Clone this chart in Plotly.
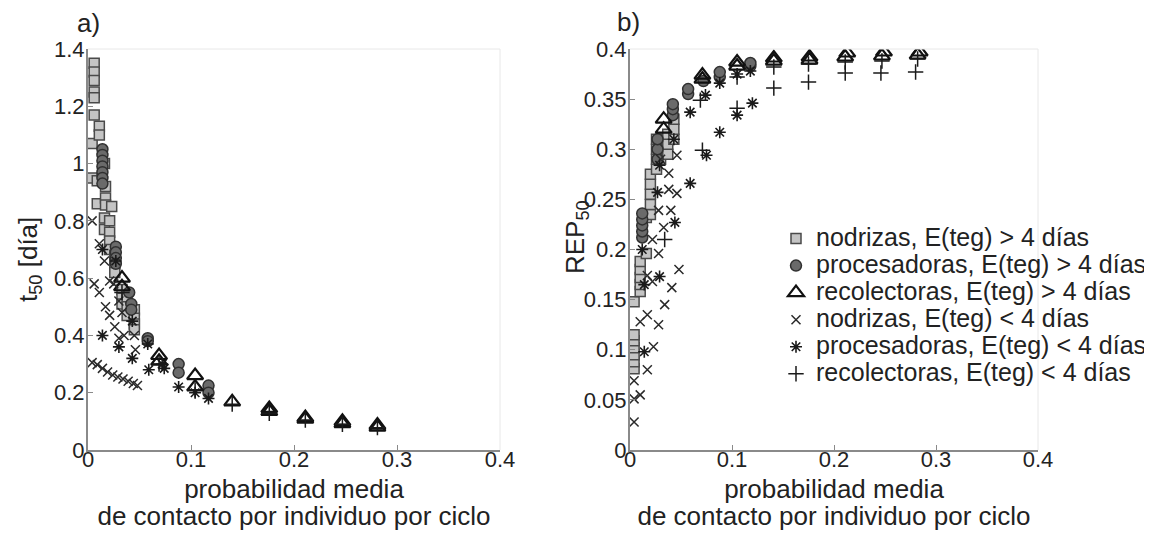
import plotly.graph_objects as go

# ---------------- data: panel a) t50 ----------------
nod_hi_a_x = [0.006,0.006,0.006,0.006,0.006,0.006,0.004,0.004,0.011,0.011,0.009,0.009,
              0.016,0.017,0.017,0.017,0.016,0.016,0.023,0.021,0.021,0.021,0.021,
              0.026,0.026,0.026,0.033,0.033,0.033,0.038,0.038,0.038,0.045,0.045,0.045,0.045]
nod_hi_a_y = [1.35,1.32,1.29,1.25,1.23,1.17,1.07,0.95,1.13,1.10,0.94,0.86,
              1.00,0.92,0.88,0.855,0.81,0.77,0.85,0.80,0.76,0.73,0.70,
              0.68,0.65,0.62,0.56,0.53,0.51,0.53,0.50,0.47,0.49,0.46,0.44,0.42]
pro_hi_a_x = [0.014,0.014,0.014,0.014,0.014,0.014,0.014,0.027,0.027,0.027,0.027,
              0.040,0.042,0.042,0.058,0.058,0.088,0.088,0.117,0.117]
pro_hi_a_y = [1.05,1.03,1.01,0.99,0.97,0.95,0.93,0.71,0.69,0.67,0.65,
              0.55,0.51,0.49,0.39,0.38,0.30,0.27,0.225,0.20]
rec_hi_a_x = [0.033,0.033,0.069,0.069,0.104,0.104,0.140,0.176,0.176,0.211,0.211,0.247,0.247,0.281,0.281]
rec_hi_a_y = [0.60,0.57,0.33,0.31,0.26,0.22,0.168,0.145,0.135,0.113,0.108,0.10,0.092,0.087,0.080]
nod_lo_a_x = [0.004,0.009,0.014,0.019,0.024,0.029,0.034,0.039,0.044,0.048,
              0.004,0.011,0.016,0.006,0.011,0.017,0.021,0.026,0.021,0.030,0.033,0.035,0.045,0.046,0.025,0.030]
nod_lo_a_y = [0.305,0.298,0.285,0.272,0.262,0.255,0.248,0.240,0.232,0.225,
              0.80,0.72,0.66,0.58,0.55,0.50,0.47,0.43,0.59,0.52,0.48,0.40,0.40,0.35,0.58,0.39]
pro_lo_a_x = [0.014,0.014,0.030,0.027,0.043,0.043,0.059,0.058,0.074,0.072,0.088,0.104,0.117]
pro_lo_a_y = [0.70,0.40,0.36,0.66,0.32,0.45,0.28,0.37,0.285,0.30,0.22,0.20,0.18]
rec_lo_a_x = [0.033,0.069,0.104,0.140,0.176,0.211,0.247,0.281]
rec_lo_a_y = [0.55,0.30,0.21,0.160,0.128,0.105,0.090,0.078]

# ---------------- data: panel b) REP50 ----------------
nod_hi_b_x = [0.004,0.004,0.004,0.004,0.004,0.004,0.004,0.010,0.010,0.010,0.010,0.010,
              0.016,0.016,0.020,0.020,0.020,0.020,0.020,0.026,0.026,0.026,0.026,
              0.030,0.030,0.032,0.037,0.037,0.037,0.043,0.043,0.043]
nod_hi_b_y = [0.081,0.088,0.095,0.102,0.109,0.115,0.148,0.158,0.165,0.172,0.180,0.188,
              0.196,0.232,0.235,0.245,0.255,0.265,0.275,0.28,0.29,0.30,0.31,
              0.29,0.30,0.31,0.295,0.305,0.315,0.31,0.32,0.33]
pro_hi_b_x = [0.012,0.012,0.012,0.012,0.012,0.027,0.027,0.027,0.042,0.042,0.042,
              0.057,0.057,0.072,0.088,0.088,0.118,0.118]
pro_hi_b_y = [0.212,0.218,0.224,0.230,0.236,0.29,0.30,0.31,0.334,0.340,0.345,
              0.355,0.36,0.368,0.372,0.377,0.383,0.386]
rec_hi_b_x = [0.033,0.033,0.071,0.071,0.105,0.105,0.141,0.141,0.176,0.176,0.213,0.211,0.249,0.247,0.284,0.282]
rec_hi_b_y = [0.33,0.32,0.374,0.370,0.387,0.383,0.391,0.388,0.392,0.389,0.396,0.392,0.397,0.393,0.397,0.394]
nod_lo_b_x = [0.004,0.004,0.010,0.004,0.017,0.023,0.010,0.017,0.028,0.034,0.022,0.041,
              0.048,0.017,0.022,0.028,0.033,0.028,0.040,0.046,0.038,0.046,0.030,0.038]
nod_lo_b_y = [0.028,0.051,0.055,0.069,0.080,0.103,0.128,0.135,0.125,0.145,0.168,0.162,
              0.180,0.174,0.210,0.196,0.222,0.239,0.239,0.256,0.276,0.294,0.29,0.26]
pro_lo_b_x = [0.014,0.014,0.029,0.044,0.029,0.043,0.059,0.059,0.075,0.074,0.088,0.088,
              0.105,0.105,0.120,0.118,0.012,0.027]
pro_lo_b_y = [0.098,0.165,0.173,0.227,0.284,0.31,0.266,0.337,0.294,0.354,0.317,0.366,
              0.334,0.375,0.346,0.378,0.20,0.257]
rec_lo_b_x = [0.034,0.069,0.071,0.105,0.141,0.175,0.211,0.246,0.280,0.141,0.175,0.211,0.247,0.282,0.105]
rec_lo_b_y = [0.21,0.349,0.299,0.341,0.361,0.367,0.376,0.376,0.377,0.382,0.385,0.387,0.388,0.390,0.372]

labels = ["nodrizas, E(teg) > 4 días", "procesadoras, E(teg) > 4 días",
          "recolectoras, E(teg) > 4 días", "nodrizas, E(teg) < 4 días",
          "procesadoras, E(teg) < 4 días", "recolectoras, E(teg) < 4 días"]

styles = [
    dict(symbol="square", size=10, color="#c4c4c4", line=dict(color="#4a4a4a", width=1.5)),
    dict(symbol="circle", size=11, color="#6a6a6a", line=dict(color="#303030", width=1.5)),
    dict(symbol="triangle-up-open", size=14, color="#111111", line=dict(color="#111111", width=2.2)),
    dict(symbol="x-thin-open", size=9, color="#2a2a2a", line=dict(color="#2a2a2a", width=1.5)),
    dict(symbol="asterisk-open", size=10, color="#1a1a1a", line=dict(color="#1a1a1a", width=1.6)),
    dict(symbol="cross-thin-open", size=11, color="#1a1a1a", line=dict(color="#1a1a1a", width=1.5)),
]

panel_a = [(nod_hi_a_x, nod_hi_a_y), (pro_hi_a_x, pro_hi_a_y), (rec_hi_a_x, rec_hi_a_y),
           (nod_lo_a_x, nod_lo_a_y), (pro_lo_a_x, pro_lo_a_y), (rec_lo_a_x, rec_lo_a_y)]
panel_b = [(nod_hi_b_x, nod_hi_b_y), (pro_hi_b_x, pro_hi_b_y), (rec_hi_b_x, rec_hi_b_y),
           (nod_lo_b_x, nod_lo_b_y), (pro_lo_b_x, pro_lo_b_y), (rec_lo_b_x, rec_lo_b_y)]

LEG = '<span style="font-size:25px">{}</span>'
BIG = '<span style="font-size:26px">{}</span>'

fig = go.Figure()
for (xs, ys), st, lab in zip(panel_a, styles, labels):
    fig.add_trace(go.Scatter(x=xs, y=ys, mode="markers", marker=st, name=lab,
                             showlegend=False, xaxis="x", yaxis="y"))
for (xs, ys), st, lab in zip(panel_b, styles, labels):
    fig.add_trace(go.Scatter(x=xs, y=ys, mode="markers", marker=st, name=LEG.format(lab),
                             showlegend=True, xaxis="x2", yaxis="y2"))

# page has an 8px body margin: figure is sized/positioned to compensate
W, H = 1144, 527
OFF = 8
font = "Liberation Sans, Arial, sans-serif"
ink = "#222222"
tickfont = dict(family=font, size=22, color=ink)
xtitle = (BIG.format("probabilidad media") + "<br>" +
          BIG.format("de contacto por individuo por ciclo"))

common_x = dict(range=[0, 0.4], dtick=0.1, tick0=0, showgrid=False, zeroline=False,
                showline=True, linecolor="#8a8a8a", linewidth=2, ticks="inside",
                ticklen=5, tickcolor="#8a8a8a", tickfont=tickfont, automargin=False,
                ticklabelstandoff=-11,
                title=dict(text=xtitle, font=dict(family=font, size=21, color=ink),
                           standoff=12))
common_y = dict(showgrid=False, zeroline=False, showline=True, linecolor="#8a8a8a",
                linewidth=2, ticks="inside", ticklen=5, tickcolor="#8a8a8a",
                tickfont=tickfont, automargin=False, ticklabelstandoff=-3)


def px(xp):
    return (xp - OFF) / W


def py(yp):
    return 1 - (yp - OFF) / H


ydom = [py(450), py(49)]
ytfont = dict(family=font, size=26, color=ink)
fig.update_layout(
    width=W, height=H, margin=dict(l=0, r=0, t=0, b=0),
    paper_bgcolor="white", plot_bgcolor="white",
    xaxis=dict(domain=[px(88), px(500)], anchor="y", **common_x),
    yaxis=dict(domain=ydom, anchor="x", range=[0, 1.4], dtick=0.2, tick0=0, **common_y),
    xaxis2=dict(domain=[px(630), px(1038)], anchor="y2", **common_x),
    yaxis2=dict(domain=ydom, anchor="x2", range=[0, 0.4], dtick=0.05, tick0=0, **common_y),
    legend=dict(x=px(776), y=py(220), xanchor="left", yanchor="top",
                bgcolor="rgba(0,0,0,0)", font=dict(family=font, size=18.5, color=ink),
                tracegroupgap=0),
    annotations=[
        dict(text="a)", x=px(88), y=py(23), xref="paper", yref="paper",
             xanchor="center", yanchor="middle",
             showarrow=False, font=dict(family=font, size=26, color=ink)),
        dict(text="b)", x=px(628), y=py(22), xref="paper", yref="paper",
             xanchor="center", yanchor="middle",
             showarrow=False, font=dict(family=font, size=26, color=ink)),
        dict(text="t<sub>50</sub> [día]", x=px(29), y=py(260), xref="paper", yref="paper",
             xanchor="center", yanchor="middle", textangle=-90,
             showarrow=False, font=ytfont),
        dict(text="REP<sub>50</sub>", x=px(576), y=py(237), xref="paper", yref="paper",
             xanchor="center", yanchor="middle", textangle=-90,
             showarrow=False, font=ytfont),
    ],
    shapes=[
        dict(type="line", xref="x domain", yref="y domain", x0=0, x1=1, y0=1, y1=1,
             line=dict(color="#e8e8e8", width=1)),
        dict(type="line", xref="x domain", yref="y domain", x0=1, x1=1, y0=0, y1=1,
             line=dict(color="#e8e8e8", width=1)),
        dict(type="line", xref="x2 domain", yref="y2 domain", x0=0, x1=1, y0=1, y1=1,
             line=dict(color="#e8e8e8", width=1)),
        dict(type="line", xref="x2 domain", yref="y2 domain", x0=1, x1=1, y0=0, y1=1,
             line=dict(color="#e8e8e8", width=1)),
    ],
)

fig.write_html("out.html")
